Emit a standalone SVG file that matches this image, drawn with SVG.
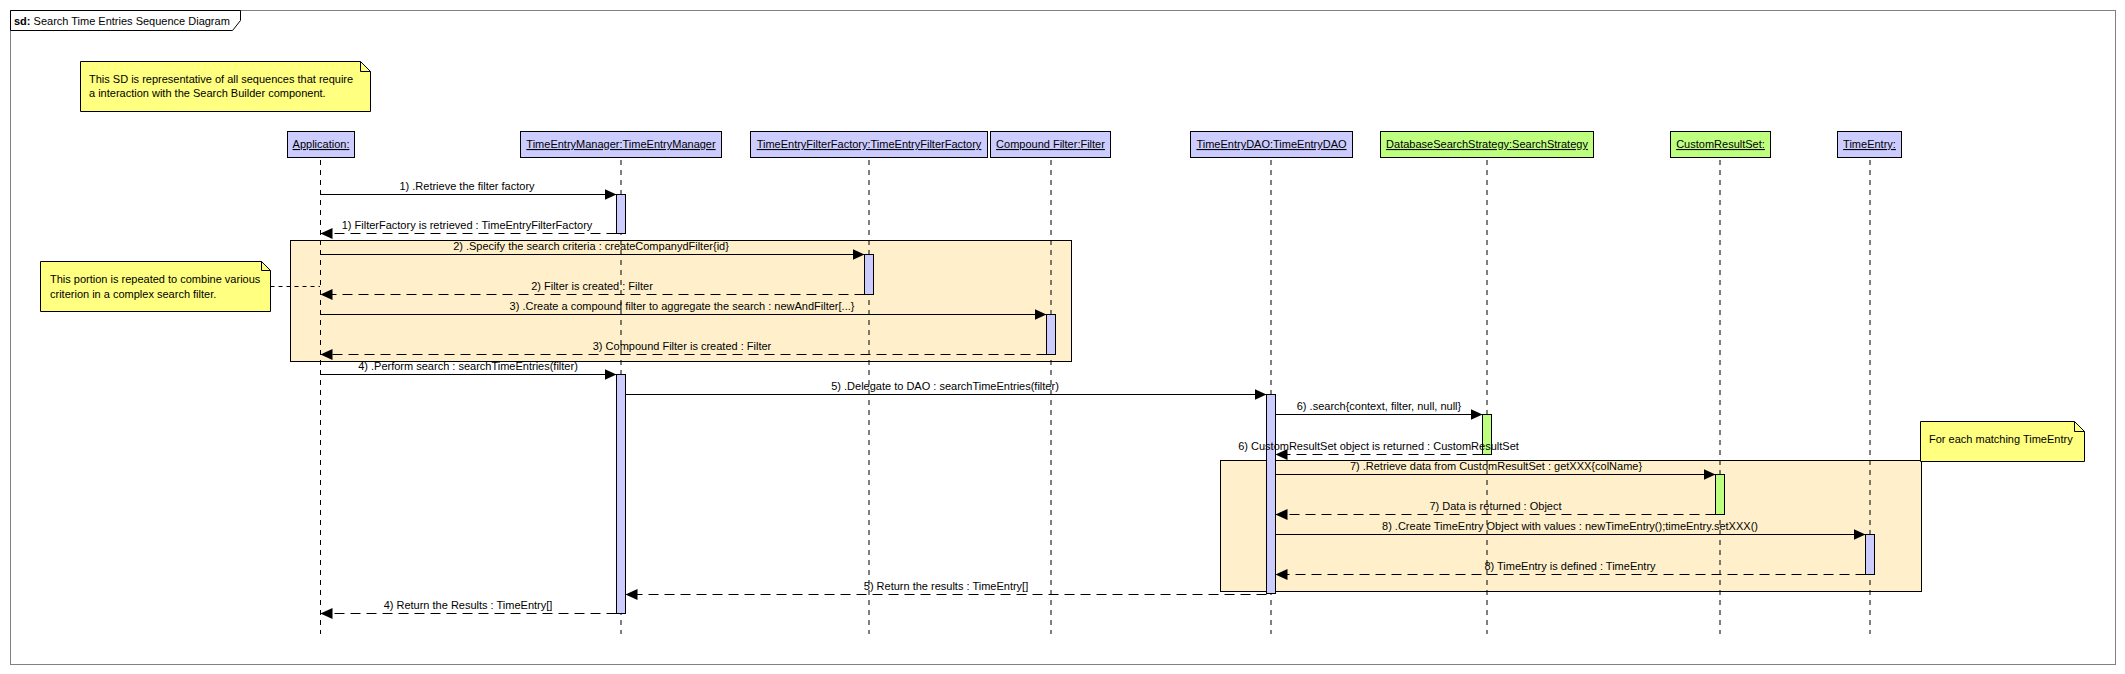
<svg xmlns="http://www.w3.org/2000/svg" width="2125" height="674" viewBox="0 0 2125 674">
<style>
text{font-family:"Liberation Sans",Arial,sans-serif;font-size:11px;fill:#000}
.hdr{stroke:#000;stroke-width:1}
.blue{fill:#CCCCFF}
.green{fill:#BFFF80}
.lbl{text-anchor:middle;text-decoration:underline}
.life{stroke:#000;stroke-width:1;stroke-dasharray:5,5;fill:none}
.act{stroke:#000;stroke-width:1}
.frag{fill:#FFF0CB;stroke:#000;stroke-width:1}
.note{fill:#FFFF80;stroke:#000;stroke-width:1}
.msg{stroke:#000;stroke-width:1;fill:none;marker-end:url(#ah)}
.ret{stroke:#000;stroke-width:1;fill:none;stroke-dasharray:10,6;marker-end:url(#ah)}
.mt{text-anchor:middle}
</style>
<defs>
<marker id="ah" viewBox="0 0 12 11" refX="12" refY="5.5" markerWidth="12" markerHeight="11" markerUnits="userSpaceOnUse" orient="auto">
<path d="M0,0 L12,5.5 L0,11 Z" fill="#000" stroke="none"/>
</marker>
</defs>
<rect width="2125" height="674" fill="#fff"/>
<g id="frame">
<rect x="10.5" y="10.5" width="2105" height="654" fill="#fff" stroke="#808080" stroke-width="1"/>
<path d="M10.5,10.5 H240.5 V20.5 L232.5,30.5 H10.5 Z" fill="#fff" stroke="#000" stroke-width="1"/>
<text x="14" y="25"><tspan font-weight="bold">sd:</tspan> Search Time Entries Sequence Diagram</text>
</g>
<g id="fragments">
<rect id="fragment1" class="frag" x="290.5" y="240.5" width="781" height="121"/>
<rect id="fragment2" class="frag" x="1220.5" y="460.5" width="701" height="131"/>
</g>
<g id="note1">
<path class="note" d="M80.5,61.5 H360.5 L370.5,71.5 V111.5 H80.5 Z"/>
<path d="M360.5,61.5 V71.5 H370.5" fill="none" stroke="#000"/>
<text x="89" y="83">This SD is representative of all sequences that require</text>
<text x="89" y="97">a interaction with the Search Builder component.</text>
</g>
<g id="note2">
<path class="note" d="M40.5,261.5 H261.5 L270.5,270.5 V311.5 H40.5 Z"/>
<path d="M261.5,261.5 V270.5 H270.5" fill="none" stroke="#000"/>
<text x="50" y="283">This portion is repeated to combine various</text>
<text x="50" y="298">criterion in a complex search filter.</text>
</g>
<g id="note3">
<path class="note" d="M1920.5,421.5 H2074.5 L2084.5,431.5 V461.5 H1920.5 Z"/>
<path d="M2074.5,421.5 V431.5 H2084.5" fill="none" stroke="#000"/>
<text x="1929" y="443">For each matching TimeEntry</text>
</g>
<g id="application">
<rect class="hdr blue" x="287.5" y="131.5" width="67" height="26"/>
<text class="lbl" x="321" y="148">Application:</text>
<line class="life" x1="320.5" y1="160" x2="320.5" y2="634"/>
</g>
<g id="timeEntryManager">
<rect class="hdr blue" x="520.5" y="131.5" width="201" height="26"/>
<text class="lbl" x="621" y="148">TimeEntryManager:TimeEntryManager</text>
<line class="life" x1="621" y1="160" x2="621" y2="634"/>
<rect class="act blue" x="616.5" y="194.5" width="9" height="39"/>
<rect class="act blue" x="616.5" y="374.5" width="9" height="239"/>
</g>
<g id="timeEntryFilterFactory">
<rect class="hdr blue" x="750.5" y="131.5" width="237" height="26"/>
<text class="lbl" x="869" y="148">TimeEntryFilterFactory:TimeEntryFilterFactory</text>
<line class="life" x1="869" y1="160" x2="869" y2="634"/>
<rect class="act blue" x="864.5" y="254.5" width="9" height="40"/>
</g>
<g id="compoundFilter">
<rect class="hdr blue" x="990.5" y="131.5" width="120" height="26"/>
<text class="lbl" x="1050.5" y="148">Compound Filter:Filter</text>
<line class="life" x1="1051" y1="160" x2="1051" y2="634"/>
<rect class="act blue" x="1046.5" y="314.5" width="9" height="40"/>
</g>
<g id="timeEntryDAO">
<rect class="hdr blue" x="1190.5" y="131.5" width="162" height="26"/>
<text class="lbl" x="1271.5" y="148">TimeEntryDAO:TimeEntryDAO</text>
<line class="life" x1="1271" y1="160" x2="1271" y2="634"/>
<rect class="act blue" x="1266.5" y="394.5" width="9" height="199"/>
</g>
<g id="databaseSearchStrategy">
<rect class="hdr green" x="1380.5" y="131.5" width="213" height="26"/>
<text class="lbl" x="1487" y="148">DatabaseSearchStrategy:SearchStrategy</text>
<line class="life" x1="1487" y1="160" x2="1487" y2="634"/>
<rect class="act green" x="1482.5" y="414.5" width="9" height="40"/>
</g>
<g id="customResultSet">
<rect class="hdr green" x="1670.5" y="131.5" width="100" height="26"/>
<text class="lbl" x="1720.5" y="148">CustomResultSet:</text>
<line class="life" x1="1720" y1="160" x2="1720" y2="634"/>
<rect class="act green" x="1715.5" y="474.5" width="9" height="40"/>
</g>
<g id="timeEntry">
<rect class="hdr blue" x="1837.5" y="131.5" width="64" height="26"/>
<text class="lbl" x="1869.5" y="148">TimeEntry:</text>
<line class="life" x1="1870" y1="160" x2="1870" y2="634"/>
<rect class="act blue" x="1865.5" y="534.5" width="9" height="40"/>
</g>
<g id="connectors">
<line x1="270.5" y1="286.5" x2="320" y2="286.5" stroke="#000" stroke-dasharray="4,4"/>
<line class="msg" x1="320.5" y1="194.5" x2="616.5" y2="194.5"/>
<text class="mt" x="467" y="190">1) .Retrieve the filter factory</text>
<line class="ret" x1="616.5" y1="233.5" x2="320.5" y2="233.5"/>
<text class="mt" x="467" y="229">1) FilterFactory is retrieved : TimeEntryFilterFactory</text>
<line class="msg" x1="320.5" y1="254.5" x2="864.5" y2="254.5"/>
<text class="mt" x="591" y="250">2) .Specify the search criteria : createCompanydFilter{id}</text>
<line class="ret" x1="864.5" y1="294.5" x2="320.5" y2="294.5"/>
<text class="mt" x="592" y="290">2) Filter is created : Filter</text>
<line class="msg" x1="320.5" y1="314.5" x2="1046.5" y2="314.5"/>
<text class="mt" x="682" y="310">3) .Create a compound filter to aggregate the search : newAndFilter[...}</text>
<line class="ret" x1="1046.5" y1="354.5" x2="320.5" y2="354.5"/>
<text class="mt" x="682" y="350">3) Compound Filter is created : Filter</text>
<line class="msg" x1="320.5" y1="374.5" x2="616.5" y2="374.5"/>
<text class="mt" x="468" y="370">4) .Perform search : searchTimeEntries(filter)</text>
<line class="msg" x1="625.5" y1="394.5" x2="1266.5" y2="394.5"/>
<text class="mt" x="945" y="390">5) .Delegate to DAO : searchTimeEntries(filter)</text>
<line class="msg" x1="1275.5" y1="414.5" x2="1482.5" y2="414.5"/>
<text class="mt" x="1379" y="410">6) .search{context, filter, null, null}</text>
<line class="ret" x1="1482.5" y1="454.5" x2="1275.5" y2="454.5"/>
<text class="mt" x="1378.5" y="450">6) CustomResultSet object is returned : CustomResultSet</text>
<line class="msg" x1="1275.5" y1="474.5" x2="1715.5" y2="474.5"/>
<text class="mt" x="1496" y="470">7) .Retrieve data from CustomResultSet : getXXX{colName}</text>
<line class="ret" x1="1715.5" y1="514.5" x2="1275.5" y2="514.5"/>
<text class="mt" x="1495.5" y="510">7) Data is returned : Object</text>
<line class="msg" x1="1275.5" y1="534.5" x2="1865.5" y2="534.5"/>
<text class="mt" x="1570" y="530">8) .Create TimeEntry Object with values : newTimeEntry();timeEntry.setXXX()</text>
<line class="ret" x1="1865.5" y1="574.5" x2="1275.5" y2="574.5"/>
<text class="mt" x="1570" y="570">8) TimeEntry is defined : TimeEntry</text>
<line class="ret" x1="1266.5" y1="594.5" x2="625.5" y2="594.5"/>
<text class="mt" x="946" y="590">5) Return the results : TimeEntry[]</text>
<line class="ret" x1="616.5" y1="613.5" x2="320.5" y2="613.5"/>
<text class="mt" x="468" y="609">4) Return the Results : TimeEntry[]</text>
</g>
</svg>
